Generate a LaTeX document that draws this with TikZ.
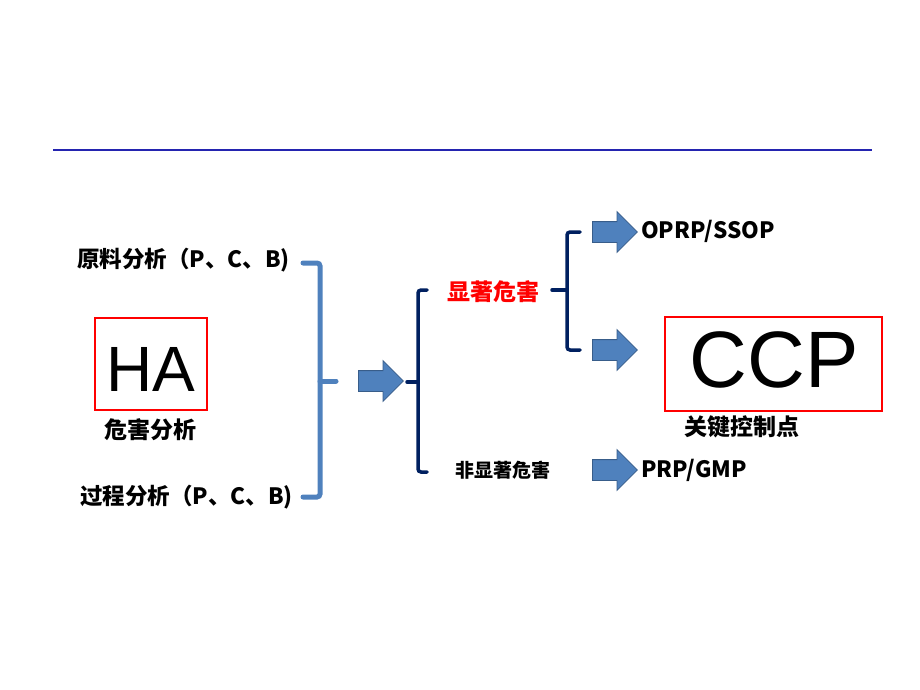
\documentclass[tikz,border=0pt]{standalone}
\usepackage{fontspec}
\setmainfont{Liberation Sans}
\newfontfamily\cjk{Noto Sans CJK SC}
\usetikzlibrary{shapes.arrows}
\definecolor{lineblue}{RGB}{36,36,176}
\definecolor{brblue}{RGB}{79,129,189}
\definecolor{navy}{RGB}{0,32,96}
\definecolor{arrowedge}{RGB}{56,93,138}
\tikzset{
  lbl/.style={font=\cjk\bfseries\fontsize{22.5}{24}\selectfont, inner sep=0pt, text=black},
  cjklbl/.style={font=\cjk\bfseries\fontsize{23}{25}\selectfont, inner sep=0pt, text=black},
  small/.style={font=\cjk\bfseries\fontsize{19}{21}\selectfont, inner sep=0pt, text=black},
  bigbox/.style={draw=red, line width=2pt, inner sep=0pt},
  bigtxt/.style={font=\fontsize{#1}{#1}\selectfont, inner sep=0pt},
  blockarrow/.style={single arrow, fill=brblue, draw=arrowedge, line width=0.8pt,
    inner sep=10pt, single arrow head extend=10pt, single arrow head indent=0pt,
    minimum height=45pt, shape border rotate=0, anchor=tail},
  brace1/.style={draw=brblue, line width=5pt, rounded corners=3pt, line cap=round},
  brace2/.style={draw=navy, line width=3.5pt, rounded corners=3pt, line cap=round},
}
\begin{document}
\begin{tikzpicture}[x=1pt,y=-1pt]
\useasboundingbox (0,0) rectangle (920,690);
\draw[lineblue, line width=2.5pt] (53,150) coordinate (l1) -- (872,150) coordinate (l2);

% left texts
\node[lbl, anchor=west] (raw) at (77,260) {原料分析（P、C、B)};
\node[lbl, anchor=west] (proc) at (80,497) {过程分析（P、C、B)};
\node[bigbox, minimum width=112pt, minimum height=92pt] (habox) at (151,364) {};
\node[bigtxt=64] (ha) at (151,369) {HA};
\node[cjklbl] (hacn) at (150,430) {危害分析};

% big bracket
\draw[brace1] (303,263) -- (320,263) -- (320,497) -- (303,497);
\draw[brace1] (320,381) -- (336,381);

% arrow 1
\node[blockarrow] (a1) at (358,381) {};

% bracket 2
\draw[brace2] (427,290) -- (418,290) -- (418,472) -- (427,472);
\draw[brace2] (418,382) -- (407,382);

\node[cjklbl, text=red] (sig) at (493,292) {显著危害};
\node[small] (nsig) at (503,470) {非显著危害};

% bracket 3
\draw[brace2] (580,232) -- (567,232) -- (567,350) -- (580,350);
\draw[brace2] (567,290) -- (552,290);

% right arrows
\node[blockarrow] (a2) at (592,232) {};
\node[blockarrow] (a3) at (592,350) {};
\node[blockarrow] (a4) at (592,470) {};

\node[lbl, anchor=west] (oprp) at (641,231) {OPRP/SSOP};
\node[lbl, anchor=west] (prp) at (641,470) {PRP/GMP};

\node[bigbox, minimum width=217pt, minimum height=94pt] (ccpbox) at (773.5,364) {};
\node[bigtxt=80] (ccp) at (774,360) {CCP};
\node[cjklbl] (ccpcn) at (742,427) {关键控制点};
\end{tikzpicture}
\end{document}
